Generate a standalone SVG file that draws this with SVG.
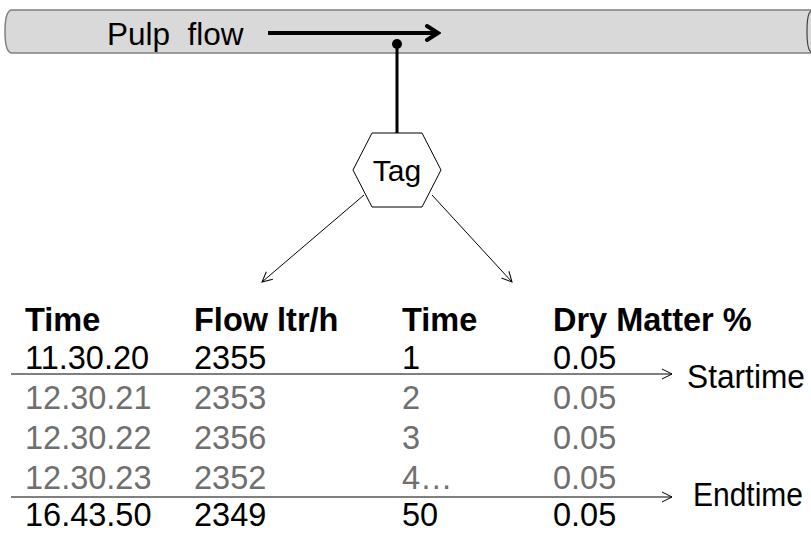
<svg xmlns="http://www.w3.org/2000/svg" width="811" height="536" viewBox="0 0 811 536">
<style>
text{font-family:"Liberation Sans",Arial,sans-serif;font-size:32.5px;fill:#000}
.h{font-weight:bold}
.g{fill:#6f6f6f}
.thin{stroke:#000;stroke-width:1;fill:none}
</style>
<defs>
<marker id="open" markerUnits="userSpaceOnUse" markerWidth="14" markerHeight="14" refX="11" refY="6" orient="auto" viewBox="0 0 14 12">
<path d="M1,1 L11,6 L1,11" fill="none" stroke="#000" stroke-width="1"/>
</marker>
<marker id="bold" markerUnits="userSpaceOnUse" markerWidth="16" markerHeight="20" refX="13" refY="9" orient="auto" viewBox="0 0 16 18">
<path d="M2,2 L13,9 L2,16" fill="none" stroke="#000" stroke-width="4" stroke-linecap="round" stroke-linejoin="miter"/>
</marker>
</defs>
<g id="pipe">
<path d="M12,10 L811,10 L811,53 L12,53 Q5,53 5,31.5 Q5,10 12,10 Z" fill="#d9d9d9"/>
<path d="M811,10 L12,10 Q5,10 5,31.5 Q5,53 12,53 L811,53" fill="none" stroke="#7f7f7f" stroke-width="1.5"/>
<path d="M812,11 Q807,11 807,31.5 Q807,52 812,52" fill="none" stroke="#404040" stroke-width="1.2"/>
<text x="107" y="45" style="white-space:pre;font-size:31.5px">Pulp  flow</text>
</g>
<g id="connectors">
<line x1="268" y1="33" x2="438" y2="33" stroke="#000" stroke-width="4" marker-end="url(#bold)"/>
<line x1="397" y1="44" x2="397" y2="133" stroke="#000" stroke-width="3"/>
<circle cx="397" cy="44" r="5" fill="#000"/>
<line class="thin" x1="364" y1="195" x2="262" y2="282" marker-end="url(#open)"/>
<line class="thin" x1="432" y1="195" x2="512" y2="282" marker-end="url(#open)"/>
<line class="thin" x1="11" y1="374" x2="672" y2="374" marker-end="url(#open)"/>
<line class="thin" x1="11" y1="497" x2="672" y2="497" marker-end="url(#open)"/>
</g>
<g id="tag">
<polygon points="353,170 372,133 422,133 441,170 422,207 372,207" fill="#fff" stroke="#000" stroke-width="1"/>
<text x="397" y="181" text-anchor="middle" style="font-size:30px">Tag</text>
</g>
<g id="table">
<text class="h" x="25" y="331">Time</text>
<text class="h" x="194" y="331">Flow ltr/h</text>
<text class="h" x="402" y="331">Time</text>
<text class="h" x="553" y="331">Dry Matter %</text>
<text x="25" y="369">11.30.20</text>
<text x="194" y="369">2355</text>
<text x="402" y="369">1</text>
<text x="553" y="369">0.05</text>
<text class="g" x="25" y="409">12.30.21</text>
<text class="g" x="194" y="409">2353</text>
<text class="g" x="402" y="409">2</text>
<text class="g" x="553" y="409">0.05</text>
<text class="g" x="25" y="449">12.30.22</text>
<text class="g" x="194" y="449">2356</text>
<text class="g" x="402" y="449">3</text>
<text class="g" x="553" y="449">0.05</text>
<text class="g" x="25" y="489">12.30.23</text>
<text class="g" x="194" y="489">2352</text>
<text class="g" x="402" y="489">4…</text>
<text class="g" x="553" y="489">0.05</text>
<text x="25" y="526">16.43.50</text>
<text x="194" y="526">2349</text>
<text x="402" y="526">50</text>
<text x="553" y="526">0.05</text>
</g>
<g id="labels">
<text x="687" y="388" textLength="118" lengthAdjust="spacingAndGlyphs">Startime</text>
<text x="693" y="506" textLength="110" lengthAdjust="spacingAndGlyphs">Endtime</text>
</g>
</svg>
